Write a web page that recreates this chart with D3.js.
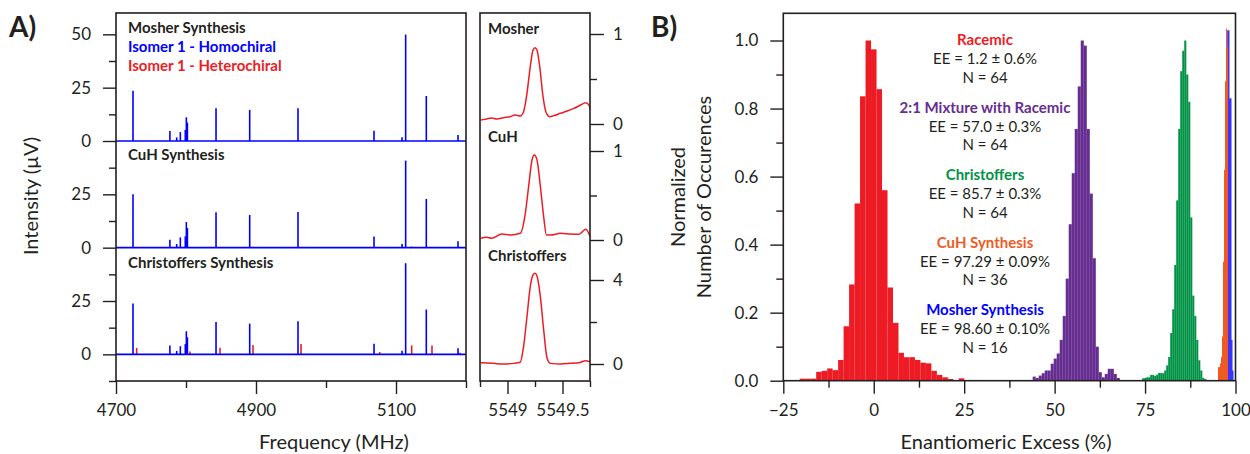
<!DOCTYPE html>
<html>
<head>
<meta charset="utf-8">
<script src="https://cdn.jsdelivr.net/npm/d3@7"></script>
<style>
  body { margin: 0; background: #fff; }
  svg text { font-family: Lato, "Noto Sans", sans-serif; fill: #231f20; }
</style>
</head>
<body>
<div id="chart"></div>
<script>
// ---- panel A: broadband spectra (offset stacked) ----
var peakFreq = [4724.3, 4777, 4786.7, 4791.9, 4799, 4800.5, 4802, 4842.9, 4891, 4960, 5068.6, 5108.6, 5113.8, 5143.3, 5188.6];
var homoMosher = [23.6, 4.7, 1.7, 4.2, 5.2, 11.1, 8.6, 15.3, 14.6, 15.3, 4.8, 1.7, 49.9, 21.1, 2.8];
var homoCuH = [25.0, 3.7, 1.7, 4.8, 5.3, 12.0, 9.2, 16.6, 15.3, 16.7, 5.2, 1.7, 40.8, 22.8, 3.0];
var homoChristoffers = [23.8, 4.1, 1.6, 3.8, 4.8, 10.8, 8.0, 15.2, 14.4, 15.5, 5.0, 1.7, 42.7, 21.0, 2.8];

var heteroFreq = [4729.5, 4805.7, 4848.6, 4895.7, 4964.3, 5076.7, 5122.4, 5151.4, 5191.4];
var heteroMosher = [0, 0, 0, 0, 0, 0, 0, 0, 0];
var heteroCuH = [0, 0, 0, 0, 0, 0, 0.5, 0.3, 0];
var heteroChristoffers = [3.0, 1.3, 3.1, 4.4, 4.8, 1.1, 4.2, 4.1, 0.8];

var specNames = ["Mosher Synthesis", "CuH Synthesis", "Christoffers Synthesis"];
var specOffsets = [100, 50, 0];

// ---- panel A: zoom on heterochiral line ----
var zMosherFreq = [5548.756, 5548.811, 5548.857, 5548.903, 5548.963, 5549.024, 5549.070, 5549.116, 5549.146, 5549.177, 5549.207, 5549.232, 5549.250, 5549.268, 5549.293, 5549.323, 5549.354, 5549.384, 5549.421, 5549.482, 5549.543, 5549.604, 5549.665, 5549.711, 5549.741, 5549.75];
var zMosher = [0.044, 0.056, 0.067, 0.056, 0.070, 0.081, 0.100, 0.089, 0.137, 0.341, 0.637, 0.822, 0.848, 0.822, 0.637, 0.304, 0.119, 0.081, 0.093, 0.119, 0.144, 0.174, 0.211, 0.237, 0.211, 0.156];
var zCuHFreq = [5548.756, 5548.811, 5548.857, 5548.948, 5549.024, 5549.116, 5549.162, 5549.192, 5549.223, 5549.244, 5549.268, 5549.299, 5549.329, 5549.354, 5549.390, 5549.482, 5549.573, 5549.650, 5549.711, 5549.75];
var zCuH = [0.019, 0.030, 0.019, 0.067, 0.056, 0.075, 0.30, 0.60, 0.90, 0.955, 0.90, 0.60, 0.26, 0.056, 0.056, 0.075, 0.067, 0.064, 0.12, 0.042];
var zChrFreq = [5548.756, 5548.872, 5548.963, 5549.055, 5549.116, 5549.146, 5549.177, 5549.207, 5549.232, 5549.250, 5549.268, 5549.299, 5549.329, 5549.360, 5549.390, 5549.482, 5549.573, 5549.650, 5549.711, 5549.75];
var zChr = [0.063, 0.03, 0, 0.03, 0.08, 0.83, 2.25, 3.68, 4.24, 4.32, 4.19, 3.2, 1.62, 0.27, 0.03, 0, 0.03, 0.06, 0.16, 0.1];
var zoomNames = ["Mosher", "CuH", "Christoffers"];
var zoomMax = [1, 1, 4];

// ---- panel B: histograms of EE ----
var racemicStart = -20.46, racemicWidth = 1.516;
var racemic = [0.006, 0.006, 0.006, 0.026, 0.029, 0.036, 0.031, 0.061, 0.16, 0.283, 0.521, 0.836, 1.0, 0.974, 0.857, 0.56, 0.274, 0.17, 0.082, 0.069, 0.069, 0.061, 0.053, 0.051, 0.029, 0.017, 0.010, 0.005, 0, 0.007];
var mixtureStart = 43.94, mixtureWidth = 0.83;
var mixture = [0.012, 0.008, 0.015, 0.022, 0.03, 0.03, 0.05, 0.065, 0.08, 0.12, 0.19, 0.30, 0.46, 0.61, 0.74, 0.865, 1.0, 0.985, 0.74, 0.55, 0.36, 0.10, 0.025, 0.01, 0.02, 0.035, 0.035, 0.02, 0.008];
var christoffersStart = 74.2, christoffersWidth = 0.554;
var christoffers = [0.007, 0.008, 0.01, 0.01, 0.017, 0.017, 0.014, 0.018, 0.023, 0.023, 0.022, 0.03, 0.045, 0.07, 0.14, 0.21, 0.34, 0.53, 0.74, 0.91, 0.97, 1.0, 0.9, 0.82, 0.48, 0.25, 0.19, 0.12, 0.06, 0.03, 0.008, 0.005];
var mosherStart = 97.47, mosherWidth = 0.277;
var mosher = [0.3, 1.03, 1.03, 0.83, 0.83, 0.12, 0.03];
var cuhStart = 95.16, cuhWidth = 0.277;
var cuh = [0.04, 0.04, 0.05, 0.07, 0.13, 0.35, 0.62, 0.88, 1.035, 0.98];

var sampleNames = ["Racemic", "2:1 Mixture with Racemic", "Christoffers", "CuH Synthesis", "Mosher Synthesis"];
var sampleEE = ["EE = 1.2 \u00b1 0.6%", "EE = 57.0 \u00b1 0.3%", "EE = 85.7 \u00b1 0.3%", "EE = 97.29 \u00b1 0.09%", "EE = 98.60 \u00b1 0.10%"];
var sampleN = [64, 64, 64, 36, 16];
var sampleColors = ["#ed1c24", "#662d91", "#009245", "#f15a24", "#0000ff"];

var ink = "#231f20";
var blue = "#0000ff", red = "#ed1c24";

var svg = d3.select("#chart").append("svg")
    .attr("width", 1250).attr("height", 454);

function styleAxis(g) {
  g.select(".domain").remove();
  g.selectAll(".tick line").attr("stroke", ink).attr("stroke-width", 1.4);
  g.selectAll(".tick text").attr("font-size", 17).attr("fill", ink);
}

// ================= panel A main =================
var xA = d3.scaleLinear().domain([4700, 5200]).range([116, 466]);
var yA = d3.scaleLinear().domain([-12.5, 160]).range([381, 13]);

var homo = [homoMosher, homoCuH, homoChristoffers];
var hetero = [heteroMosher, heteroCuH, heteroChristoffers];

var gA = svg.append("g");
specOffsets.forEach(function(off, k) {
  // heterochiral sticks
  gA.append("g").selectAll("line")
    .data(heteroFreq.map(function(f, i) { return { f: f, v: hetero[k][i] }; }).filter(function(d) { return d.v > 0; }))
    .enter().append("line")
    .attr("x1", function(d) { return xA(d.f); }).attr("x2", function(d) { return xA(d.f); })
    .attr("y1", yA(off)).attr("y2", function(d) { return yA(off + d.v); })
    .attr("stroke", red).attr("stroke-width", 1.6);
  // homochiral sticks
  gA.append("g").selectAll("line")
    .data(peakFreq.map(function(f, i) { return { f: f, v: homo[k][i] }; }))
    .enter().append("line")
    .attr("x1", function(d) { return xA(d.f); }).attr("x2", function(d) { return xA(d.f); })
    .attr("y1", yA(off)).attr("y2", function(d) { return yA(off + d.v); })
    .attr("stroke", blue).attr("stroke-width", 1.6);
  // baseline
  gA.append("line")
    .attr("x1", xA(4700)).attr("x2", xA(5200))
    .attr("y1", yA(off)).attr("y2", yA(off))
    .attr("stroke", blue).attr("stroke-width", 1.6);
});

var majorA = [0, 25, 50, 75, 100, 125, 150];
var minorA = [-12.5, 12.5, 37.5, 62.5, 87.5, 112.5, 137.5];
gA.append("g").attr("transform", "translate(116,0)")
  .call(d3.axisLeft(yA).tickValues(majorA).tickSize(13).tickPadding(12)
    .tickFormat(function(d) { return d === 150 ? 50 : d % 50; }))
  .call(styleAxis);
gA.append("g").attr("transform", "translate(116,0)")
  .call(d3.axisLeft(yA).tickValues(minorA).tickSize(7).tickFormat(""))
  .call(styleAxis);
gA.append("g").attr("transform", "translate(0,381)")
  .call(d3.axisBottom(xA).tickValues([4700, 4900, 5100]).tickSize(13).tickPadding(10).tickFormat(d3.format("d")))
  .call(styleAxis);
gA.append("g").attr("transform", "translate(0,381)")
  .call(d3.axisBottom(xA).tickValues([4800, 5000, 5200]).tickSize(7).tickFormat(""))
  .call(styleAxis);

gA.append("rect").attr("x", 116).attr("y", 13).attr("width", 350).attr("height", 368)
  .attr("fill", "none").attr("stroke", ink).attr("stroke-width", 1.6);

// labels
var labA = [["Mosher Synthesis", ink, 33], ["Isomer 1 - Homochiral", blue, 52], ["Isomer 1 - Heterochiral", red, 71],
            ["CuH Synthesis", ink, 160], ["Christoffers Synthesis", ink, 268]];
gA.selectAll("text.lab").data(labA).enter().append("text")
  .attr("class", "lab")
  .attr("x", 128).attr("y", function(d) { return d[2]; })
  .attr("font-size", 15).attr("font-weight", "bold")
  .style("fill", function(d) { return d[1]; })
  .text(function(d) { return d[0]; });

svg.append("text").attr("transform", "translate(38,196) rotate(-90)")
  .attr("text-anchor", "middle").attr("font-size", 20).text("Intensity (\u00b5V)");
svg.append("text").attr("x", 334).attr("y", 449)
  .attr("text-anchor", "middle").attr("font-size", 20).text("Frequency (MHz)");
svg.append("text").attr("x", 9).attr("y", 37)
  .attr("font-size", 28).attr("font-weight", "bold").text("A)");

// ================= panel A zoom =================
var xM = d3.scaleLinear().domain([5548.75, 5549.75]).range([480, 590]);
var yMs = [
  d3.scaleLinear().domain([0, 1]).range([124, 34]),
  d3.scaleLinear().domain([0, 1]).range([240, 151]),
  d3.scaleLinear().domain([0, 4]).range([364, 280])
];
var zFreq = [zMosherFreq, zCuHFreq, zChrFreq];
var zVal = [zMosher, zCuH, zChr];
var labY = [34, 142, 261];

svg.append("clipPath").attr("id", "clipM").append("rect")
  .attr("x", 480).attr("y", 13).attr("width", 110).attr("height", 368);

var gM = svg.append("g");
yMs.forEach(function(y, k) {
  var line = d3.line()
    .x(function(d) { return xM(d[0]); })
    .y(function(d) { return y(d[1]); })
    .curve(d3.curveMonotoneX);
  gM.append("path")
    .datum(zFreq[k].map(function(f, i) { return [f, zVal[k][i]]; }))
    .attr("d", line).attr("fill", "none")
    .attr("stroke", red).attr("stroke-width", 1.5)
    .attr("clip-path", "url(#clipM)");
  gM.append("g").attr("transform", "translate(590,0)")
    .call(d3.axisRight(y).tickValues([0, zoomMax[k]]).tickSize(14).tickPadding(9).tickFormat(d3.format("d")))
    .call(styleAxis);
  gM.append("g").attr("transform", "translate(590,0)")
    .call(d3.axisRight(y).tickValues([zoomMax[k] / 2]).tickSize(7).tickFormat(""))
    .call(styleAxis);
  gM.append("text").attr("x", 488).attr("y", labY[k])
    .attr("font-size", 15).attr("font-weight", "bold").text(zoomNames[k]);
});
gM.append("g").attr("transform", "translate(0,381)")
  .call(d3.axisBottom(xM).tickValues([5549, 5549.5]).tickSize(13).tickPadding(10).tickFormat(function(d) { return d; }))
  .call(styleAxis);
gM.append("g").attr("transform", "translate(0,381)")
  .call(d3.axisBottom(xM).tickValues([5548.75, 5549.25, 5549.75]).tickSize(6).tickFormat(""))
  .call(styleAxis);
gM.append("rect").attr("x", 480).attr("y", 13).attr("width", 110).attr("height", 368)
  .attr("fill", "none").attr("stroke", ink).attr("stroke-width", 1.6);

// ================= panel B =================
var xB = d3.scaleLinear().domain([-25, 100]).range([783.3, 1235.5]);
var yB = d3.scaleLinear().domain([0, 1.08]).range([380.7, 13.3]);

var hists = [
  { start: racemicStart, w: racemicWidth, v: racemic, c: sampleColors[0] },
  { start: mixtureStart, w: mixtureWidth, v: mixture, c: sampleColors[1] },
  { start: christoffersStart, w: christoffersWidth, v: christoffers, c: sampleColors[2] },
  { start: mosherStart, w: mosherWidth, v: mosher, c: sampleColors[4] },
  { start: cuhStart, w: cuhWidth, v: cuh, c: sampleColors[3] }
];

var gB = svg.append("g");
hists.forEach(function(h) {
  gB.append("g").selectAll("rect")
    .data(h.v.map(function(v, i) { return { x0: h.start + i * h.w, v: v }; }))
    .enter().append("rect")
    .attr("x", function(d) { return xB(d.x0); })
    .attr("width", function(d) { return xB(d.x0 + h.w) - xB(d.x0) + 0.05; })
    .attr("y", function(d) { return yB(d.v); })
    .attr("height", function(d) { return yB(0) - yB(d.v); })
    .attr("fill", h.c);
});

gB.append("g").attr("transform", "translate(783.3,0)")
  .call(d3.axisLeft(yB).tickValues([0, 0.2, 0.4, 0.6, 0.8, 1.0]).tickSize(13).tickPadding(12).tickFormat(d3.format(".1f")))
  .call(styleAxis);
gB.append("g").attr("transform", "translate(783.3,0)")
  .call(d3.axisLeft(yB).tickValues([0.1, 0.3, 0.5, 0.7, 0.9]).tickSize(7).tickFormat(""))
  .call(styleAxis);
gB.append("g").attr("transform", "translate(0,380.7)")
  .call(d3.axisBottom(xB).tickValues([-25, 0, 25, 50, 75, 100]).tickSize(13).tickPadding(10))
  .call(styleAxis);
gB.append("g").attr("transform", "translate(0,380.7)")
  .call(d3.axisBottom(xB).tickValues([-12.5, 12.5, 37.5, 62.5, 87.5]).tickSize(7).tickFormat(""))
  .call(styleAxis);
gB.append("rect").attr("x", 783.3).attr("y", 13.3).attr("width", 452.2).attr("height", 367.4)
  .attr("fill", "none").attr("stroke", ink).attr("stroke-width", 1.6);

var ann = gB.append("g").attr("text-anchor", "middle");
sampleNames.forEach(function(name, i) {
  var y0 = 45 + i * 67.5;
  ann.append("text").attr("x", 985).attr("y", y0)
    .attr("font-size", 15).attr("font-weight", "bold").style("fill", sampleColors[i]).text(name);
  ann.append("text").attr("x", 985).attr("y", y0 + 19)
    .attr("font-size", 15).text(sampleEE[i]);
  ann.append("text").attr("x", 985).attr("y", y0 + 37.5)
    .attr("font-size", 15).text("N = " + sampleN[i]);
});

svg.append("text").attr("transform", "translate(685,197) rotate(-90)")
  .attr("text-anchor", "middle").attr("font-size", 20).text("Normalized");
svg.append("text").attr("transform", "translate(711,197) rotate(-90)")
  .attr("text-anchor", "middle").attr("font-size", 20).text("Number of Occurences");
svg.append("text").attr("x", 1006).attr("y", 449)
  .attr("text-anchor", "middle").attr("font-size", 20).text("Enantiomeric Excess (%)");
svg.append("text").attr("x", 651).attr("y", 37)
  .attr("font-size", 28).attr("font-weight", "bold").text("B)");
</script>
</body>
</html>
